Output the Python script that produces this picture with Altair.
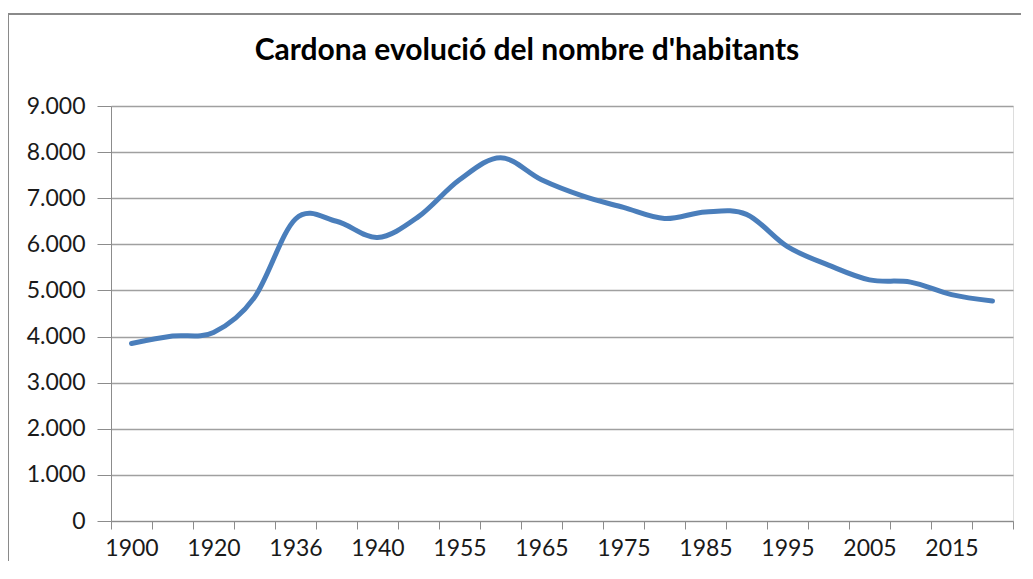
import altair as alt
import pandas as pd

years = ["1900", "1910", "1920", "1930", "1936", "1938", "1940", "1950", "1955", "1960",
         "1965", "1970", "1975", "1981", "1985", "1991", "1995", "2000", "2005", "2010",
         "2015", "2019"]
habitants = [3850, 4010, 4090, 4850, 6550, 6500, 6150, 6600, 7400, 7880,
             7400, 7050, 6800, 6560, 6700, 6650, 5950, 5550, 5230, 5180,
             4910, 4770]
shown_labels = ["1900", "1920", "1936", "1940", "1955", "1965", "1975", "1985",
                "1995", "2005", "2015"]
y_ticks = [0, 1000, 2000, 3000, 4000, 5000, 6000, 7000, 8000, 9000]

df = pd.DataFrame({"any": years, "habitants": habitants})

FONT = "Lato"
W, H = 902, 415

label_expr = "indexof([" + ",".join("'%s'" % s for s in shown_labels) + "], datum.label) >= 0 ? datum.label : ''"

line = alt.Chart(df).mark_line(
    interpolate="cardinal", tension=0, color="#4a7ebb", strokeWidth=5,
    strokeCap="round", strokeJoin="round"
).encode(
    x=alt.X("any:O", sort=years, bandPosition=0.5,
            scale=alt.Scale(type="band", paddingInner=0, paddingOuter=0),
            axis=alt.Axis(title=None, labelAngle=0, tickBand="extent", labelExpr=label_expr,
                          tickSize=8, labelPadding=8, domainColor="#8c8c8c", tickColor="#8c8c8c",
                          labelFont=FONT, labelFontSize=23, labelColor="#1a1a1a", grid=False)),
    y=alt.Y("habitants:Q", scale=alt.Scale(domain=[0, 9000], nice=False),
            axis=alt.Axis(title=None, values=y_ticks, tickSize=14, labelPadding=12,
                          labelExpr="replace(format(datum.value, ','), ',', '.')",
                          domainColor="#8c8c8c", tickColor="#8c8c8c", gridColor="#a0a0a0",
                          gridWidth=1.3, labelFont=FONT, labelFontSize=23, labelColor="#1a1a1a")),
)

frame = alt.Chart(df).mark_rect(fill=None, stroke="#8a8a8a", strokeWidth=2).encode(
    x=alt.value(-103), x2=alt.value(W + 60), y=alt.value(-92), y2=alt.value(H + 80))

chart = alt.layer(frame, line).properties(
    width=W, height=H,
    title=alt.TitleParams("Cardona evolució del nombre d'habitants", font=FONT, fontSize=30,
                          fontWeight="bold", color="#000000", anchor="middle", frame="group",
                          dx=-35, offset=-77, baseline="alphabetic"),
    autosize=alt.AutoSizeParams(type="none"),
    padding={"left": 103, "top": 98, "right": 8, "bottom": 40},
).configure_view(stroke=None).configure(background="white")

chart.save("out.html", embed_options={"renderer": "svg", "actions": False})
